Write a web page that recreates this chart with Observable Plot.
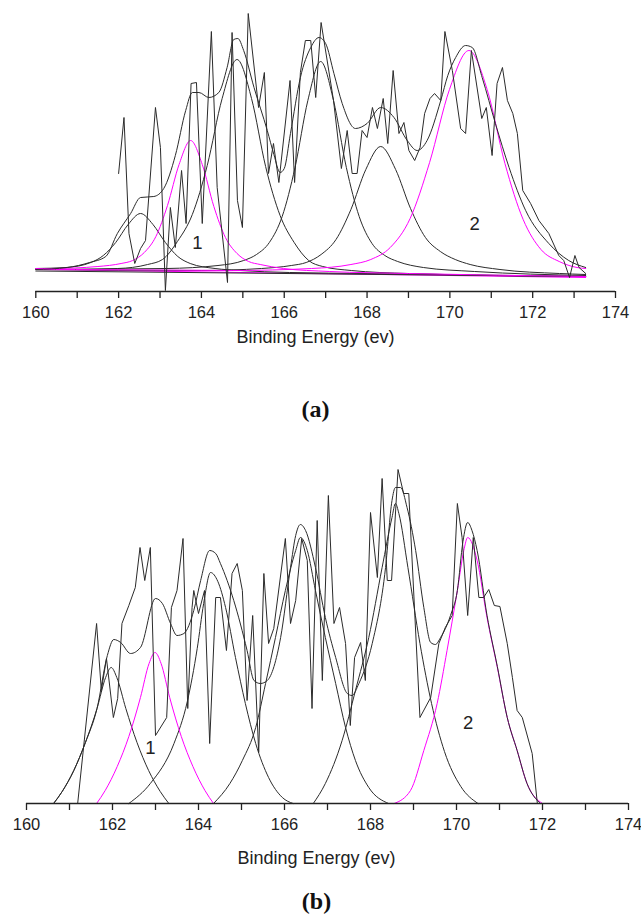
<!DOCTYPE html>
<html><head><meta charset="utf-8">
<script src="https://cdn.jsdelivr.net/npm/d3@7"></script>
<script src="https://cdn.jsdelivr.net/npm/@observablehq/plot@0.6"></script>
<style>
body{margin:0;background:#fff;}
#page{position:relative;width:641px;height:919px;overflow:hidden;background:#fff;}
.panel{position:absolute;left:0;}
.title{position:absolute;width:641px;text-align:center;font-family:"Liberation Sans",Arial,sans-serif;font-size:18px;line-height:1;color:#222;}
.tag{position:absolute;width:641px;text-align:center;font-family:"Liberation Serif","Times New Roman",serif;font-weight:bold;font-size:24px;line-height:1;color:#111;}
</style></head><body>
<div id="page">
<div id="pa" class="panel" style="top:0"></div>
<div class="title" style="left:-5px;top:328px">Binding Energy (ev)</div>
<div class="tag" style="left:-5px;top:397px">(a)</div>
<div id="pb" class="panel" style="top:440px"></div>
<div class="title" style="left:-4px;top:849px">Binding Energy (ev)</div>
<div class="tag" style="left:-4px;top:889px">(b)</div>
</div>
<script>
// ---------- tick values ----------
const majorTicks = [160, 162, 164, 166, 168, 170, 172, 174];
const minorTicks = [161, 163, 165, 167, 169, 171, 173];

// ---------- panel (a): [binding energy (eV), intensity (a.u.)] ----------
const rawA = [[162.00,97],[162.13,153],[162.25,37],[162.39,7],[162.53,22],[162.65,30],[162.89,163],[163.01,123],[163.13,-20],[163.25,63],[163.37,23],[163.52,100],[163.63,47],[163.75,187],[163.88,188],[164.02,47],[164.24,239],[164.38,83],[164.63,-12],[164.74,238],[164.87,70],[164.99,43],[165.13,257],[165.38,163],[165.52,198],[165.62,97],[165.74,127],[165.87,88],[166.14,190],[166.25,88],[166.39,198],[166.51,230],[166.64,230],[166.76,173],[166.89,248],[167.19,170],[167.38,102],[167.52,140],[167.64,97],[167.76,97],[167.88,140],[168.00,133],[168.13,163],[168.25,142],[168.39,172],[168.50,127],[168.63,200],[168.77,137],[168.89,148],[169.01,120],[169.15,110],[169.28,123],[169.39,157],[169.52,172],[169.63,177],[169.78,170],[169.88,239],[170.06,200],[170.26,142],[170.38,137],[170.52,220],[170.77,152],[170.88,163],[171.02,115],[171.14,187],[171.27,203],[171.39,170],[171.52,157],[171.63,137],[171.76,80],[171.95,67],[172.15,50],[172.39,37],[172.63,15],[172.75,10],[172.89,-7],[173.02,15],[173.12,3],[173.28,-3]];
const envA = [[160,1],[160.76,3],[161.3,8],[161.69,14],[161.97,37],[162.29,57],[162.53,73],[162.85,74],[163.09,82],[163.37,115],[163.62,160],[163.78,178],[163.94,178],[164.18,173],[164.42,178],[164.62,203],[164.78,231],[164.88,232],[165.02,220],[165.27,183],[165.59,140],[165.75,116],[165.9,98],[166.0,102],[166.15,137],[166.39,193],[166.64,223],[166.84,233],[167.0,227],[167.2,197],[167.4,167],[167.72,142],[168.0,147],[168.33,163],[168.65,153],[168.97,130],[169.21,120],[169.45,130],[169.78,170],[169.95,195],[170.14,213],[170.38,225],[170.54,223],[170.78,193],[171.1,147],[171.43,103],[171.83,60],[172.39,27],[172.87,10],[173.28,3]];
const peakA1 = [[160,2],[160.73,3],[161.33,8],[161.63,15],[161.93,28],[162.23,46],[162.53,57],[162.83,46],[163.13,28],[163.43,14],[163.73,7],[164.33,2],[164.93,0],[166.13,-2],[168,-3],[173.28,-6]];
const peakA2 = [[160,1],[160.54,1],[161.98,2],[162.7,6],[163.06,11],[163.42,29],[163.78,56],[164.14,105],[164.5,172],[164.86,211],[165.21,172],[165.55,104],[165.9,55],[166.24,28],[166.59,10],[166.93,4],[167.62,0],[169,-3],[173.28,-6]];
const peakA3 = [[160,1],[163.16,2],[164.4,5],[165.02,10],[165.33,16],[165.64,28],[165.95,54],[166.26,103],[166.57,170],[166.88,209],[167.19,170],[167.5,103],[167.81,54],[168.12,27],[168.43,15],[168.74,9],[169.36,3],[170.6,-1],[173.28,-5]];
const peakA4 = [[160,1],[164.01,0],[165.45,2],[166.17,5],[166.53,8],[166.89,16],[167.25,31],[167.61,61],[167.97,101],[168.33,124],[168.69,101],[169.05,62],[169.41,33],[169.77,19],[170.13,11],[170.49,6],[171.21,1],[172.65,-3],[173.28,-4]];
const peakA_S1 = [[160,2],[160.38,2],[161.5,4],[162.06,7],[162.34,10],[162.62,18],[162.9,34],[163.18,65],[163.46,106],[163.74,130],[164.02,106],[164.3,64],[164.58,33],[164.86,17],[165.14,9],[165.42,6],[165.98,2],[167.1,-1],[169,-3],[173.28,-6]];
const peakA_S2 = [[160,1],[160.96,1],[164.76,0],[166.66,2],[167.61,6],[168.09,11],[168.56,23],[169.04,52],[169.51,108],[169.99,181],[170.46,220],[170.9,181],[171.33,107],[171.77,51],[172.2,21],[172.64,9],[173.07,3],[173.28,2]];
const bgA_black = [[160,-0.5],[173.28,-6]];
const bgA_magenta = [[160,1],[173.28,-7]];
const labelsA = [{e:163.9, v:27, t:"1"}, {e:170.6, v:46, t:"2"}];

// ---------- panel (b) ----------
const rawB = [[161.19,0],[161.63,180],[161.74,113],[161.86,145],[162.02,86],[162.12,105],[162.22,180],[162.38,198],[162.53,216],[162.64,256],[162.75,223],[162.88,256],[163.0,68],[163.26,86],[163.37,196],[163.5,213],[163.64,265],[163.75,95],[163.85,196],[163.89,213],[164.0,190],[164.14,213],[164.26,60],[164.4,206],[164.51,206],[164.65,153],[164.78,230],[164.9,240],[165.02,213],[165.13,103],[165.26,188],[165.4,51],[165.52,230],[165.63,160],[165.75,175],[166.02,265],[166.14,180],[166.26,203],[166.4,265],[166.53,243],[166.64,95],[166.76,283],[166.88,123],[167.02,308],[167.15,180],[167.28,196],[167.42,160],[167.53,78],[167.63,146],[167.77,161],[167.88,123],[168.0,291],[168.16,226],[168.27,325],[168.39,223],[168.49,223],[168.64,334],[168.77,310],[168.89,310],[169.15,86],[169.4,106],[169.59,160],[169.74,176],[169.9,188],[170.02,300],[170.13,266],[170.26,188],[170.39,266],[170.52,206],[170.63,206],[170.75,214],[170.88,198],[171.01,197],[171.18,160],[171.3,126],[171.41,93],[171.53,86],[171.76,50],[171.88,0]];
const envB = [[160.63,0],[160.83,12],[161.1,33],[161.37,61],[161.64,95],[161.88,148],[162.03,164],[162.19,161],[162.42,150],[162.65,156],[163.0,205],[163.16,200],[163.35,180],[163.5,168],[163.66,170],[163.89,193],[164.05,223],[164.26,253],[164.4,250],[164.51,240],[164.82,203],[165.13,153],[165.29,123],[165.44,120],[165.6,123],[165.91,166],[166.14,236],[166.26,268],[166.37,279],[166.49,273],[166.72,236],[166.95,186],[167.19,146],[167.46,110],[167.57,108],[167.73,120],[168.04,160],[168.35,236],[168.5,303],[168.58,316],[168.7,316],[168.85,296],[169.05,253],[169.24,196],[169.4,161],[169.51,159],[169.63,166],[169.86,188],[170.02,213],[170.15,262],[170.26,281],[170.36,273],[170.48,253],[170.71,188],[170.95,137],[171.18,86],[171.41,53],[171.64,20],[171.95,0]];
const peakB1 = [[160.63,0],[160.83,12],[161.1,33],[161.37,61],[161.64,95],[161.84,126],[161.97,136],[162.1,126],[162.31,95],[162.57,61],[162.84,33],[163.11,12],[163.31,0]];
const peakB3 = [[162.38,0],[162.88,20],[163.43,60],[163.74,102],[163.97,155],[164.12,200],[164.28,231],[164.45,222],[164.63,196],[164.86,146],[165.09,100],[165.33,60],[165.63,26],[165.95,6],[166.2,0]];
const peakB4 = [[164.35,0],[164.73,20],[165.02,43],[165.33,76],[165.56,120],[165.79,166],[166.02,213],[166.26,253],[166.37,266],[166.53,253],[166.72,213],[166.95,166],[167.19,120],[167.42,76],[167.65,43],[167.96,16],[168.42,0]];
const peakB5 = [[166.67,0],[166.95,20],[167.34,63],[167.65,113],[167.96,166],[168.27,236],[168.5,286],[168.58,300],[168.66,290],[168.87,236],[169.15,160],[169.42,100],[169.72,52],[170.1,17],[170.5,0]];
const peakB_S1 = [[161.63,0],[161.83,13],[162.11,37],[162.38,67],[162.65,106],[162.85,140],[162.99,151],[163.13,140],[163.33,106],[163.6,67],[163.87,37],[164.15,13],[164.35,0]];
const peakB_S2 = [[168.55,0],[168.93,13],[169.24,53],[169.55,100],[169.78,153],[170.02,213],[170.17,253],[170.26,266],[170.48,243],[170.71,186],[170.95,136],[171.18,86],[171.41,53],[171.64,20],[172.0,0]];
const labelsB = [{e:162.88, v:55, t:"1"}, {e:170.27, v:80, t:"2"}];

// ---------- drawing ----------
const INK = "#2b2b2b", MAG = "#ff00ff";
const rows = a => a.map(([e, v]) => ({e, v}));
const smooth = (data, stroke) => Plot.line(rows(data), {x: "e", y: "v", stroke, strokeWidth: 1, curve: "monotone-x"});
const jagged = (data) => Plot.line(rows(data), {x: "e", y: "v", stroke: INK, strokeWidth: 1, strokeLinejoin: "miter", strokeMiterlimit: 4});

function axes(yBase) {
  return [
    Plot.ruleY([yBase], {x1: 160, x2: 174, stroke: "#222", strokeWidth: 1.4}),
    Plot.axisX({ticks: majorTicks, tickSize: 7, tickPadding: 8, tickFormat: d => String(d), label: null, fontSize: 16.5, stroke: "#222", strokeWidth: 1.3, color: "#222"}),
    Plot.axisX({ticks: minorTicks, tickSize: 7, tickFormat: () => "", label: null, stroke: "#222", strokeWidth: 1.3})
  ];
}

const plotA = Plot.plot({
  width: 641, height: 338,
  marginLeft: 35, marginRight: 26, marginTop: 0, marginBottom: 47,
  x: {domain: [160, 174], range: [35.3, 615]},
  y: {domain: [-21, 270], range: [291, 0], axis: null},
  style: {fontFamily: "'Liberation Sans', Arial, sans-serif", background: "white", overflow: "visible"},
  marks: [
    Plot.line(rows(bgA_magenta), {x: "e", y: "v", stroke: MAG, strokeWidth: 1}),
    Plot.line(rows(bgA_black), {x: "e", y: "v", stroke: INK, strokeWidth: 1}),
    smooth(peakA1, INK), smooth(peakA2, INK), smooth(peakA3, INK), smooth(peakA4, INK),
    smooth(peakA_S1, MAG), smooth(peakA_S2, MAG),
    smooth(envA, INK),
    jagged(rawA),
    Plot.text(labelsA, {x: "e", y: "v", text: "t", fontSize: 18.5, fill: "#222"}),
    ...axes(-21)
  ]
});
document.getElementById("pa").appendChild(plotA);

const plotB = Plot.plot({
  width: 641, height: 410,
  marginLeft: 26, marginRight: 13, marginTop: 0, marginBottom: 47,
  x: {domain: [160, 174], range: [26, 628]},
  y: {domain: [0, 363], range: [363, 0], axis: null},
  style: {fontFamily: "'Liberation Sans', Arial, sans-serif", background: "white", overflow: "visible"},
  marks: [
    smooth(peakB1, INK), smooth(peakB3, INK), smooth(peakB4, INK), smooth(peakB5, INK),
    smooth(peakB_S1, MAG), smooth(peakB_S2, MAG),
    smooth(envB, INK),
    jagged(rawB),
    Plot.text(labelsB, {x: "e", y: "v", text: "t", fontSize: 18.5, fill: "#222"}),
    ...axes(0)
  ]
});
document.getElementById("pb").appendChild(plotB);
</script>
</body></html>
